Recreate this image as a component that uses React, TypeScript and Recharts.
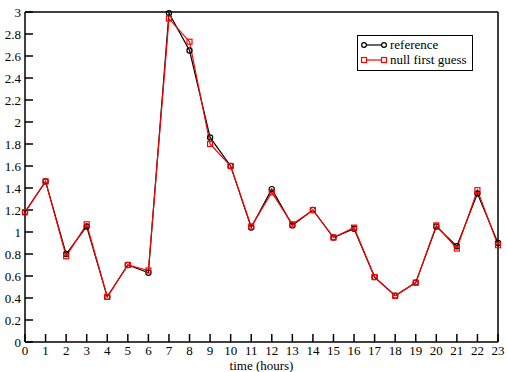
import React from 'react';
import {
  LineChart,
  Line,
  XAxis,
  YAxis,
  ReferenceLine,
} from 'recharts';

const hours = [0, 1, 2, 3, 4, 5, 6, 7, 8, 9, 10, 11, 12, 13, 14, 15, 16, 17, 18, 19, 20, 21, 22, 23];
const referenceValues = [1.18, 1.46, 0.8, 1.05, 0.41, 0.7, 0.63, 2.99, 2.65, 1.86, 1.6, 1.04, 1.39, 1.06, 1.2, 0.95, 1.03, 0.59, 0.42, 0.54, 1.05, 0.87, 1.35, 0.9];
const firstGuessValues = [1.18, 1.46, 0.78, 1.07, 0.41, 0.7, 0.65, 2.94, 2.73, 1.8, 1.6, 1.05, 1.36, 1.07, 1.2, 0.95, 1.04, 0.59, 0.42, 0.54, 1.06, 0.85, 1.38, 0.88];
const yTicks = [0, 0.2, 0.4, 0.6, 0.8, 1, 1.2, 1.4, 1.6, 1.8, 2, 2.2, 2.4, 2.6, 2.8, 3];

const data = hours.map((h, i) => ({
  hour: h,
  reference: referenceValues[i],
  guess: firstGuessValues[i],
}));

const FONT = '"Liberation Serif", "Times New Roman", serif';

const SquareDot = (props: any) => {
  const { cx, cy, index } = props;
  if (cx == null || cy == null) return <g key={`sq-${index}`} />;
  return (
    <rect
      key={`sq-${index}`}
      x={cx - 2.5}
      y={cy - 2.5}
      width={5}
      height={5}
      fill="none"
      stroke="#ff0000"
      strokeWidth={1.2}
    />
  );
};

const CircleDot = (props: any) => {
  const { cx, cy, index } = props;
  if (cx == null || cy == null) return <g key={`c-${index}`} />;
  return <circle key={`c-${index}`} cx={cx} cy={cy} r={2.6} fill="none" stroke="#000" strokeWidth={1.2} />;
};

// legend box drawn by hand, placed over the plot like the original
const LegendBox = () => (
  <div
    style={{
      position: 'absolute',
      left: 357,
      top: 35,
      border: '1px solid #000',
      background: '#fff',
      width: 116,
      height: 36,
      boxSizing: 'border-box',
    }}
  >
    <svg width={114} height={34} style={{ display: 'block' }}>
      <line x1={6} x2={26} y1={9} y2={9} stroke="#000" strokeWidth={1.2} />
      <circle cx={6} cy={9} r={2.4} fill="#fff" stroke="#000" strokeWidth={1.2} />
      <circle cx={26} cy={9} r={2.4} fill="#fff" stroke="#000" strokeWidth={1.2} />
      <text x={32} y={13} fontFamily={FONT} fontSize={13} fill="#000">reference</text>
      <line x1={6} x2={26} y1={24} y2={24} stroke="#ff0000" strokeWidth={1.2} />
      <rect x={3.5} y={21.5} width={5} height={5} fill="#fff" stroke="#ff0000" strokeWidth={1.2} />
      <rect x={23.5} y={21.5} width={5} height={5} fill="#fff" stroke="#ff0000" strokeWidth={1.2} />
      <text x={32} y={28} fontFamily={FONT} fontSize={13} fill="#000">null first guess</text>
    </svg>
  </div>
);

export default function App() {
  return (
    <div style={{ position: 'absolute', left: 0, top: 0, width: 507, height: 372, background: '#fff' }}>
      <LineChart
        width={507}
        height={372}
        data={data}
        margin={{ top: 12, right: 9, left: 0, bottom: 0 }}
      >
        <XAxis
          dataKey="hour"
          type="number"
          domain={[0, 23]}
          ticks={hours}
          interval={0}
          height={30}
          stroke="#000"
          strokeWidth={1.5}
          tickSize={-8}
          tickMargin={12}
          tick={{ fill: '#000', fontFamily: FONT, fontSize: 13 }}
          label={{
            value: 'time (hours)',
            position: 'insideBottom',
            offset: 2,
            fill: '#000',
            fontFamily: FONT,
            fontSize: 13,
          }}
        />
        <YAxis
          type="number"
          domain={[0, 3]}
          ticks={yTicks}
          interval={0}
          width={25}
          stroke="#000"
          strokeWidth={1.5}
          tickSize={-8}
          tickMargin={12}
          tickFormatter={(v: number) => String(parseFloat(v.toFixed(1)))}
          tick={{ fill: '#000', fontFamily: FONT, fontSize: 13 }}
        />
        <ReferenceLine y={3} stroke="#000" strokeWidth={1.5} />
        <ReferenceLine x={23} stroke="#000" strokeWidth={1.5} />
        <Line
          dataKey="reference"
          stroke="#000"
          strokeWidth={1.2}
          dot={CircleDot}
          activeDot={false}
          isAnimationActive={false}
        />
        <Line
          dataKey="guess"
          stroke="#ff0000"
          strokeWidth={1.2}
          dot={SquareDot}
          activeDot={false}
          isAnimationActive={false}
        />
      </LineChart>
      <LegendBox />
    </div>
  );
}
